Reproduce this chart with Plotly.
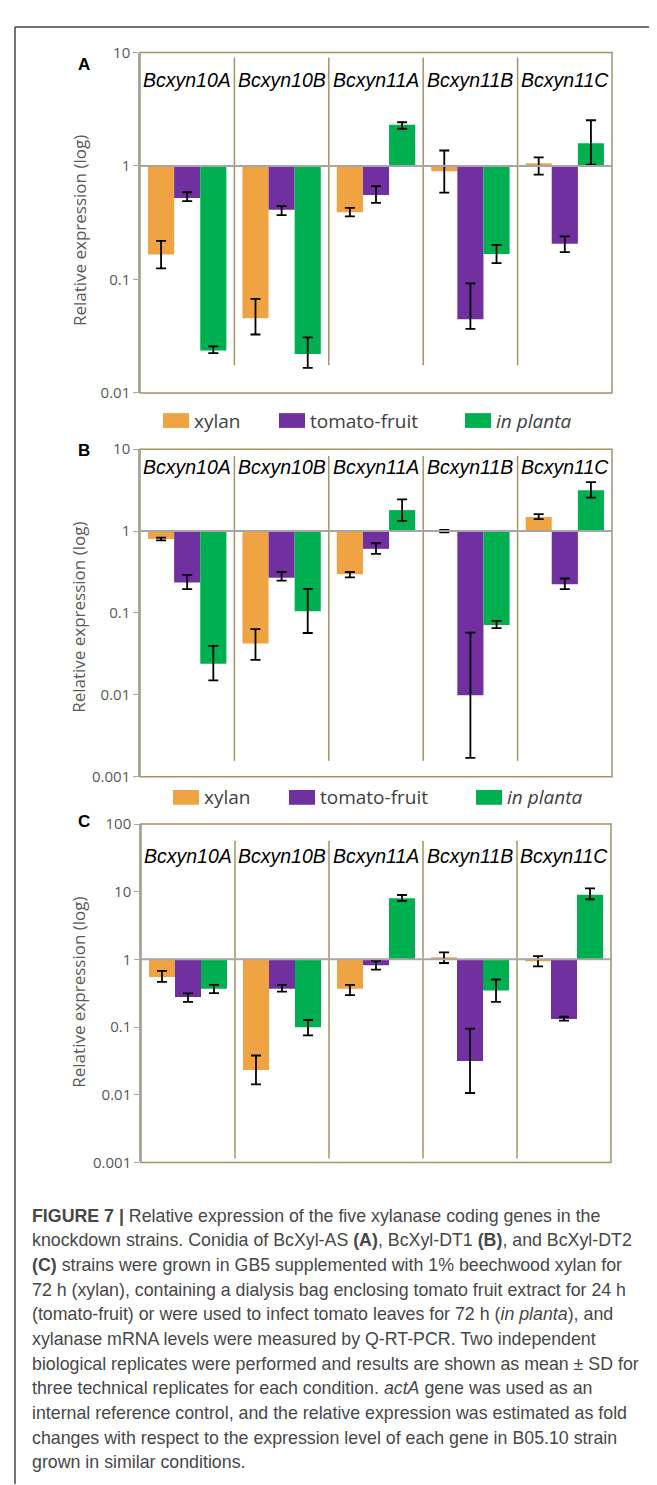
import plotly.graph_objects as go
import math

# ---------------- data ----------------
genes = ["Bcxyn10A", "Bcxyn10B", "Bcxyn11A", "Bcxyn11B", "Bcxyn11C"]
conditions = ["xylan", "tomato-fruit", "in planta"]
colors = ["#F0A343", "#7030A0", "#00B050"]

# Panel A (BcXyl-AS)
A_xylan = [0.166, 0.0454, 0.392, 0.899, 1.055]
A_xylan_hi = [0.219, 0.0675, 0.428, 1.37, 1.19]
A_xylan_lo = [0.125, 0.0327, 0.359, 0.582, 0.84]
A_tomato = [0.521, 0.411, 0.555, 0.0445, 0.206]
A_tomato_hi = [0.587, 0.442, 0.665, 0.0923, 0.24]
A_tomato_lo = [0.491, 0.369, 0.473, 0.0366, 0.174]
A_planta = [0.0236, 0.022, 2.31, 0.1675, 1.59]
A_planta_hi = [0.0257, 0.0308, 2.43, 0.202, 2.53]
A_planta_lo = [0.0224, 0.0166, 2.13, 0.139, 1.03]

# Panel B (BcXyl-DT1)
B_xylan = [0.80, 0.0422, 0.296, 0.99, 1.48]
B_xylan_hi = [0.83, 0.0634, 0.316, 1.03, 1.61]
B_xylan_lo = [0.77, 0.0267, 0.272, 0.96, 1.40]
B_tomato = [0.235, 0.268, 0.606, 0.0099, 0.224]
B_tomato_hi = [0.291, 0.316, 0.709, 0.0573, 0.263]
B_tomato_lo = [0.195, 0.248, 0.527, 0.0017, 0.195]
B_planta = [0.0239, 0.105, 1.80, 0.071, 3.14]
B_planta_hi = [0.0395, 0.197, 2.44, 0.080, 3.95]
B_planta_lo = [0.0150, 0.0568, 1.33, 0.0653, 2.55]

# Panel C (BcXyl-DT2)
C_xylan = [0.551, 0.0232, 0.368, 1.07, 0.935]
C_xylan_hi = [0.675, 0.038, 0.421, 1.27, 1.12]
C_xylan_lo = [0.466, 0.0142, 0.297, 0.884, 0.79]
C_tomato = [0.278, 0.368, 0.817, 0.0315, 0.131]
C_tomato_hi = [0.315, 0.421, 0.95, 0.0945, 0.142]
C_tomato_lo = [0.235, 0.333, 0.706, 0.0106, 0.124]
C_planta = [0.368, 0.0989, 7.98, 0.348, 9.04]
C_planta_hi = [0.421, 0.127, 8.94, 0.504, 11.2]
C_planta_lo = [0.318, 0.0755, 7.30, 0.235, 7.73]

A_ticks = [10, 1, 0.1, 0.01]
B_ticks = [10, 1, 0.1, 0.01, 0.001]
C_ticks = [100, 10, 1, 0.1, 0.01, 0.001]

caption_lines = [
    "<b>FIGURE 7 |</b> Relative expression of the five xylanase coding genes in the",
    "knockdown strains. Conidia of BcXyl-AS <b>(A)</b>, BcXyl-DT1 <b>(B)</b>, and BcXyl-DT2",
    "<b>(C)</b> strains were grown in GB5 supplemented with 1% beechwood xylan for",
    "72 h (xylan), containing a dialysis bag enclosing tomato fruit extract for 24 h",
    "(tomato-fruit) or were used to infect tomato leaves for 72 h (<i>in planta</i>), and",
    "xylanase mRNA levels were measured by Q-RT-PCR. Two independent",
    "biological replicates were performed and results are shown as mean ± SD for",
    "three technical replicates for each condition. <i>actA</i> gene was used as an",
    "internal reference control, and the relative expression was estimated as fold",
    "changes with respect to the expression level of each gene in B05.10 strain",
    "grown in similar conditions.",
]

# ---------------- layout helpers ----------------
W, H = 657, 1485
def fx(x):
    return x / W
def fy(y):
    return 1 - y / H

OLIVE = "#A39465"
GRAY = "#A6A6A6"
TXT = "#595959"

panels = [
    dict(letter="A", data=[(A_xylan, A_xylan_hi, A_xylan_lo), (A_tomato, A_tomato_hi, A_tomato_lo), (A_planta, A_planta_hi, A_planta_lo)],
         ticks=A_ticks, box=(132, 604, 34, 379), div=(39, 351), label_y=62, letter_xy=(76, 46),
         title_y=215, legend_y=407, legend_x=(155, 271, 457)),
    dict(letter="B", data=[(B_xylan, B_xylan_hi, B_xylan_lo), (B_tomato, B_tomato_hi, B_tomato_lo), (B_planta, B_planta_hi, B_planta_lo)],
         ticks=B_ticks, box=(132, 604, 436, 768), div=(443, 752), label_y=454, letter_xy=(76, 437),
         title_y=607, legend_y=789, legend_x=(165, 281, 468)),
    dict(letter="C", data=[(C_xylan, C_xylan_hi, C_xylan_lo), (C_tomato, C_tomato_hi, C_tomato_lo), (C_planta, C_planta_hi, C_planta_lo)],
         ticks=C_ticks, box=(133, 603, 816, 1159), div=(833, 1155), label_y=848, letter_xy=(76, 813),
         title_y=987, legend_y=None, legend_x=None),
]

fig = go.Figure()
shapes = []
annotations = []

for pi, p in enumerate(panels):
    n = "" if pi == 0 else str(pi + 1)
    xa, ya = "x" + n, "y" + n
    x0, x1, y0, y1 = p["box"]
    for ci, (vals, hi, lo) in enumerate(p["data"]):
        fig.add_trace(go.Bar(
            x=genes, y=[v - 1 for v in vals], base=[1] * len(vals),
            marker=dict(color=colors[ci], line=dict(width=0)),
            name=conditions[ci], showlegend=False,
            error_y=dict(type="data", symmetric=False,
                         array=[h - v for h, v in zip(hi, vals)],
                         arrayminus=[v - l for v, l in zip(vals, lo)],
                         color="black", thickness=1.8, width=5),
            xaxis=xa, yaxis=ya,
        ))
    tv = p["ticks"]
    rng = [math.log10(min(tv)), math.log10(max(tv))]
    fig.update_layout({
        ("xaxis" + n): dict(domain=[fx(x0), fx(x1)], anchor=ya, range=[-0.5, 4.5],
                            showticklabels=False, ticks="", showgrid=False, zeroline=False,
                            showline=False, type="category"),
        ("yaxis" + n): dict(domain=[fy(y1), fy(y0)], anchor=xa, type="log", range=rng,
                            tickvals=tv, ticktext=[("%g" % t) for t in tv],
                            tickfont=dict(family="Open Sans", size=15, color=TXT),
                            ticks="outside", ticklen=5, tickcolor=GRAY, tickwidth=1.2,
                            showline=True, linecolor=GRAY, linewidth=1.5,
                            showgrid=False, zeroline=False),
    })
    xd, yd = xa + " domain", ya + " domain"
    shapes.append(dict(type="rect", xref=xd, yref=yd, x0=0, x1=1, y0=0, y1=1,
                       line=dict(color=OLIVE, width=1.5), layer="below"))
    shapes.append(dict(type="line", xref=xd, yref=ya, x0=0, x1=1, y0=1, y1=1,
                       line=dict(color=GRAY, width=2), layer="above"))
    for k in range(len(genes) - 1):
        shapes.append(dict(type="line", xref=xa, yref="paper", x0=k + 0.5, x1=k + 0.5,
                           y0=fy(p["div"][1]), y1=fy(p["div"][0]),
                           line=dict(color=OLIVE, width=1.5), layer="below"))
    for g in genes:
        annotations.append(dict(x=g, xref=xa, y=fy(p["label_y"]), yref="paper",
                                text="<i>%s</i>" % g, showarrow=False,
                                font=dict(family="Liberation Sans", size=19.5, color="black"),
                                xanchor="center", yanchor="middle"))
    lx, ly = p["letter_xy"]
    annotations.append(dict(x=fx(lx), y=fy(ly), xref="paper", yref="paper",
                            text="<b>%s</b>" % p["letter"], showarrow=False,
                            font=dict(family="Liberation Sans", size=17, color="black"),
                            xanchor="center", yanchor="middle"))
    annotations.append(dict(x=fx(71), y=fy(p["title_y"]), xref="paper", yref="paper",
                            text="Relative expression (log)", textangle=-90, showarrow=False,
                            font=dict(family="Open Sans", size=17, color=TXT),
                            xanchor="center", yanchor="middle"))
    if p["legend_y"] is not None:
        ly = p["legend_y"]
        for ci, cond in enumerate(conditions):
            sx = p["legend_x"][ci]
            shapes.append(dict(type="rect", xref="paper", yref="paper",
                               x0=fx(sx), x1=fx(sx + 26), y0=fy(ly + 7.5), y1=fy(ly - 7.5),
                               fillcolor=colors[ci], line=dict(width=0)))
            t = "<i>%s</i>" % cond if cond == "in planta" else cond
            annotations.append(dict(x=fx(sx + 29), y=fy(ly), xref="paper", yref="paper",
                                    text=t, showarrow=False, xanchor="left", yanchor="middle",
                                    font=dict(family="Open Sans", size=19, color="#404040")))

for i, line in enumerate(caption_lines):
    annotations.append(dict(x=fx(22), y=fy(1213 + 25 * i), xref="paper", yref="paper",
                            text=line, showarrow=False, xanchor="left", yanchor="middle",
                            font=dict(family="Liberation Sans", size=17.8, color="#474747")))

shapes.append(dict(type="line", xref="paper", yref="paper", x0=fx(7), x1=1, y0=fy(8), y1=fy(8),
                   line=dict(color="#444444", width=1.5)))
shapes.append(dict(type="line", xref="paper", yref="paper", x0=fx(7), x1=fx(7), y0=0, y1=fy(8),
                   line=dict(color="#444444", width=1.5)))

fig.update_layout(
    width=W, height=H, margin=dict(l=0, r=0, t=0, b=0),
    paper_bgcolor="white", plot_bgcolor="white",
    barmode="group", bargap=0.17, bargroupgap=0,
    shapes=shapes, annotations=annotations, showlegend=False,
)

fig.write_html("out.html")
